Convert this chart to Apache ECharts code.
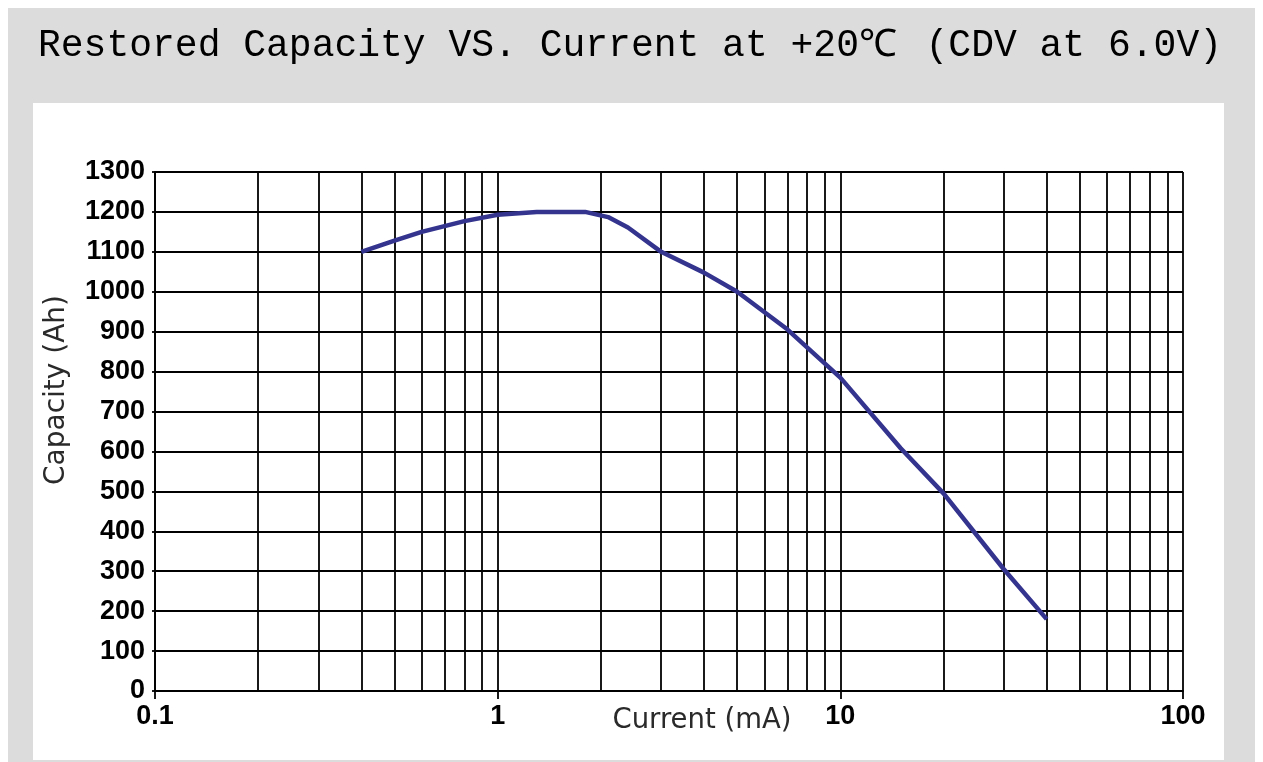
<!DOCTYPE html>
<html>
<head>
<meta charset="utf-8">
<style>
html,body{margin:0;padding:0;background:#fff;}
#chart{width:1263px;height:762px;}
</style>
<script src="https://cdn.jsdelivr.net/npm/echarts@6/dist/echarts.min.js"></script>
</head>
<body>
<div id="chart"></div>
<script>
var titleMain = 'Restored Capacity VS. Current at +20\u2103';
var titleSub = '(CDV at 6.0V)';
var xAxisTitle = 'Current (mA)';
var yAxisTitle = 'Capacity (Ah)';
var currentMA = [0.4, 0.5, 0.6, 0.8, 1, 1.3, 1.8, 2.1, 2.4, 3, 4, 5, 7, 10, 15, 20, 30, 40];
var capacityAh = [1100, 1128, 1150, 1177, 1193, 1200, 1200, 1187, 1161, 1100, 1048, 1000, 906, 785, 608, 495, 305, 180];
var minorGridX = [0.2, 0.3, 0.4, 0.5, 0.6, 0.7, 0.8, 0.9, 2, 3, 4, 5, 6, 7, 8, 9, 20, 30, 40, 50, 60, 70, 80, 90];

var chart = echarts.init(document.getElementById('chart'), null, {renderer: 'canvas'});
var seriesData = currentMA.map(function (x, i) { return [x, capacityAh[i]]; });

chart.setOption({
  animation: false,
  backgroundColor: '#ffffff',
  graphic: [
    {type: 'rect', z: -10, shape: {x: 8, y: 8, width: 1247, height: 754}, style: {fill: '#dcdcdc'}},
    {type: 'rect', z: -9, shape: {x: 33, y: 103, width: 1191, height: 657}, style: {fill: '#ffffff'}},
    {type: 'text', z: 10, x: 38, y: 46, style: {text: titleMain, font: 'normal 38px "Liberation Mono", monospace', fill: '#000', verticalAlign: 'middle', align: 'left'}},
    {type: 'text', z: 10, x: 1222, y: 46, style: {text: titleSub, font: 'normal 38px "Liberation Mono", monospace', fill: '#000', verticalAlign: 'middle', align: 'right'}},
    {type: 'text', z: 10, x: 702, y: 721, style: {text: xAxisTitle, font: 'normal 27.5px "DejaVu Sans", sans-serif', fill: '#2a2a2a', verticalAlign: 'middle', align: 'center'}},
    {type: 'text', z: 10, x: 57, y: 390, rotation: Math.PI / 2, style: {text: yAxisTitle, font: 'normal 28px "DejaVu Sans", sans-serif', fill: '#2a2a2a', verticalAlign: 'middle', align: 'center'}}
  ],
  grid: {left: 155, right: 80, top: 172, bottom: 71, containLabel: false},
  xAxis: {
    type: 'log', logBase: 10, min: 0.1, max: 100,
    axisLine: {show: true, lineStyle: {color: '#000', width: 1.8}},
    axisTick: {show: true, length: 8, inside: false, lineStyle: {color: '#000', width: 1.8}},
    minorTick: {show: false},
    splitLine: {show: true, lineStyle: {color: '#000', width: 1.8}},
    axisLabel: {color: '#000', fontFamily: '"Liberation Sans", Arial, sans-serif', fontWeight: 'bold', fontSize: 27, margin: 12,
      formatter: function (v) { return String(v); }}
  },
  yAxis: {
    type: 'value', min: 0, max: 1300, interval: 100,
    axisLine: {show: true, lineStyle: {color: '#000', width: 1.8}},
    axisTick: {show: true, length: 3, lineStyle: {color: '#000', width: 1.8}},
    splitLine: {show: true, lineStyle: {color: '#000', width: 1.8}},
    axisLabel: {color: '#000', fontFamily: '"Liberation Sans", Arial, sans-serif', fontWeight: 'bold', fontSize: 27, margin: 10,
      formatter: function (v) { return String(v); }}
  },
  series: [
    {
      type: 'line', data: seriesData, showSymbol: false, symbol: 'none', smooth: false, z: 5,
      lineStyle: {color: '#34348f', width: 4.5, join: 'round'},
      markLine: {
        silent: true, symbol: 'none', animation: false, z: 1,
        label: {show: false},
        lineStyle: {color: '#000', width: 1.8, type: 'solid'},
        data: minorGridX.map(function (v) { return {xAxis: v}; })
      }
    }
  ]
});
</script>
</body>
</html>
